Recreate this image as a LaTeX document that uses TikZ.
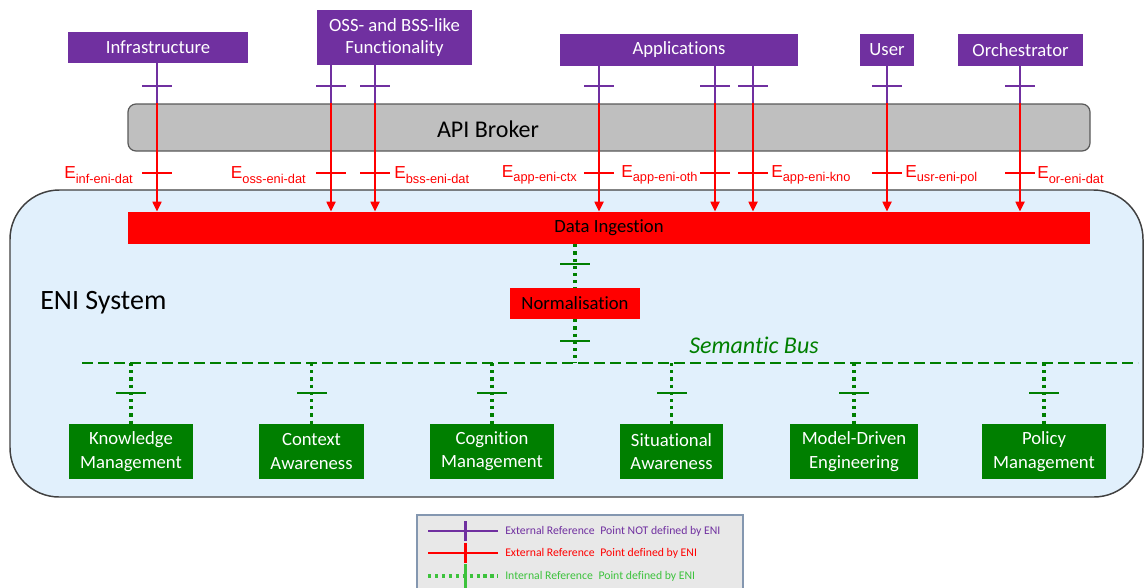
\documentclass[tikz,border=0pt]{standalone}
\usepackage{fontspec}
\setmainfont{Carlito}[Ligatures=NoCommon]
\newfontfamily\arialfont{Liberation Sans}
\usetikzlibrary{arrows.meta,calc}

\definecolor{extcol}{HTML}{7030A0}
\definecolor{enired}{HTML}{FF0000}
\definecolor{grn}{HTML}{007F00}
\definecolor{legrn}{HTML}{3CC23C}
\definecolor{enifill}{HTML}{E1F0FC}
\definecolor{brokerfill}{HTML}{BFBFBF}
\definecolor{legfill}{HTML}{E8E8E8}
\definecolor{legedge}{HTML}{8497B0}

% E label with subscript
\newcommand{\eref}[1]{{\arialfont\fontsize{13}{13}\selectfont E\raisebox{-0.5ex}{\fontsize{9.6}{10}\selectfont #1}}}

\begin{document}
\begin{tikzpicture}[x=0.75pt,y=-0.75pt,
  sz/.style 2 args={minimum width=#1*0.75pt, minimum height=#2*0.75pt},
  topbox/.style={fill=extcol, text=white, inner sep=0pt, align=center,
    font=\fontsize{14}{17}\selectfont},
  modbox/.style={fill=grn, text=white, inner sep=0pt, align=center,
    font=\fontsize{14}{17.5}\selectfont},
  redbox/.style={fill=enired, text=black, inner sep=0pt,
    font=\fontsize{14}{17}\selectfont},
  pline/.style={draw=extcol, line width=1.9pt},
  rline/.style={draw=enired, line width=1.9pt,
    -{Triangle[length=7.5pt,width=6.5pt]}},
  gdot/.style={draw=grn, line width=2.4pt, dash pattern=on 2.4pt off 3pt},
  gbus/.style={draw=grn, line width=2pt, dash pattern=on 8pt off 4pt},
  tickmark/.style={shape=rectangle, inner sep=0pt, draw=none,
    minimum width=30*0.75pt, minimum height=2.4*0.75pt},
  ptick/.style={tickmark, fill=extcol},
  rtick/.style={tickmark, fill=enired},
  gtick/.style={tickmark, fill=grn},
  elab/.style={text=enired, inner sep=0pt},
  legtxt/.style={anchor=west, inner sep=0pt, font=\fontsize{8.8}{10}\selectfont}
]
\useasboundingbox (0,0) rectangle (1145,587);

% ENI system frame
\draw[fill=enifill, draw=black!75, line width=1.1pt, rounded corners=37pt]
  (10,190) rectangle (1143,497);
\node[anchor=west, inner sep=0pt, font=\fontsize{21}{24}\selectfont] (enititle)
  at (40,303) {ENI System};

% external entities
\node[topbox, sz={180}{31}] (infra) at (158,47.5) {Infrastructure};
\node[topbox, sz={155}{55}] (oss) at (394.5,37.5) {OSS- and BSS-like\\Functionality};
\node[topbox, sz={238}{32}] (apps) at (679,50) {Applications};
\node[topbox, sz={54}{32}] (user) at (887,50) {User};
\node[topbox, sz={125}{32}] (orch) at (1020.5,50) {Orchestrator};

% API broker
\node[draw=black!65, fill=brokerfill, line width=0.9pt, rounded corners=6pt,
  sz={962}{47}] (broker) at (609,127.5) {};
\node[inner sep=0pt, font=\fontsize{18}{20}\selectfont] (brokertext) at (488,129) {API Broker};

% data ingestion and normalisation
\node[redbox, sz={962}{32}] (ingest) at (609,228) {Data Ingestion};
\node[redbox, sz={130}{31}] (norm) at (575,303.5) {Normalisation};

% external reference points
\foreach \n/\x/\i in {infra/157/1, oss/331/2, oss/375/3, apps/599/4,
                      apps/715/5, apps/753/6, user/887/7, orch/1020/8} {
  \coordinate (cx\i) at (\x,0);
  \draw[pline] (\n.south -| cx\i) -- (broker.north -| cx\i);
  \draw[rline] (broker.north -| cx\i) -- (ingest.north -| cx\i);
  \node[ptick] (pt\i) at (\x,86) {};
  \node[rtick] (rt\i) at (\x,173) {};
}

% reference point labels
\node[elab, anchor=east] (l1) at (133,175) {\eref{inf-eni-dat}};
\node[elab, anchor=east] (l2) at (306,175) {\eref{oss-eni-dat}};
\node[elab, anchor=west] (l3) at (394,175) {\eref{bss-eni-dat}};
\node[elab, anchor=east] (l4) at (577,175) {\eref{app-eni-ctx}};
\node[elab, anchor=west] (l5) at (621,175) {\eref{app-eni-oth}};
\node[elab, anchor=west] (l6) at (771,175) {\eref{app-eni-kno}};
\node[elab, anchor=west] (l7) at (905,175) {\eref{usr-eni-pol}};
\node[elab, anchor=west] (l8) at (1037,175) {\eref{or-eni-dat}};

% semantic bus
\coordinate (busL) at (82,363);
\coordinate (busR) at (1138,363);
\draw[gbus] (busL) -- (busR);
\node[text=grn, inner sep=0pt, font=\itshape\fontsize{18}{20}\selectfont] (bustext)
  at (754,345) {Semantic Bus};

% internal reference points
\draw[gdot] (ingest.south -| norm.north) -- (norm.north);
\node[gtick] (gt1) at (575,264) {};
\draw[gdot] (norm.south) -- (norm.south |- busL);
\node[gtick] (gt2) at (575,341) {};

% ENI functional blocks
\foreach \n/\x/\w/\t/\i in {
    know/131/124/{Knowledge\\Management}/1,
    ctx/311.5/105/{Context\\Awareness}/2,
    cog/492/124/{Cognition\\Management}/3,
    sit/671.5/103/{Situational\\Awareness}/4,
    mde/854/128/{Model-Driven\\Engineering}/5,
    pol/1044/124/{Policy\\Management}/6} {
  \node[modbox, sz={\w}{55}] (\n) at (\x,451.5) {\t};
  \draw[gdot] (\n.north |- busL) -- (\n.north);
  \node[gtick] (mt\i) at (\x,393) {};
}

% legend
\node[draw=legedge, fill=legfill, line width=0.9pt, sz={326}{90}] (legend) at (580,560) {};
\coordinate (la1) at (428,531); \coordinate (lb1) at (498,531);
\coordinate (la2) at (428,553); \coordinate (lb2) at (498,553);
\coordinate (la3) at (428,576); \coordinate (lb3) at (498,576);
\draw[extcol, line width=2.2pt] (la1) -- (lb1);
\draw[extcol, line width=2.2pt] ($(la1)!0.53!(lb1)+(0,-10)$) -- ($(la1)!0.53!(lb1)+(0,10)$);
\draw[enired, line width=2.2pt] (la2) -- (lb2);
\draw[enired, line width=2.2pt] ($(la2)!0.53!(lb2)+(0,-10)$) -- ($(la2)!0.53!(lb2)+(0,10)$);
\draw[legrn, line width=2.4pt, dash pattern=on 2.6pt off 2.6pt] (la3) -- (lb3);
\draw[legrn, line width=2.4pt] ($(la3)!0.53!(lb3)+(0,-12)$) -- ($(la3)!0.53!(lb3)+(0,12)$);
\node[legtxt, text=extcol] (lt1) at (505,531) {External Reference\hspace{0.25em} Point NOT defined by ENI};
\node[legtxt, text=enired] (lt2) at (505,553) {External Reference\hspace{0.25em} Point defined by ENI};
\node[legtxt, text=legrn] (lt3) at (505,576) {Internal Reference\hspace{0.25em} Point defined by ENI};
\end{tikzpicture}
\end{document}
